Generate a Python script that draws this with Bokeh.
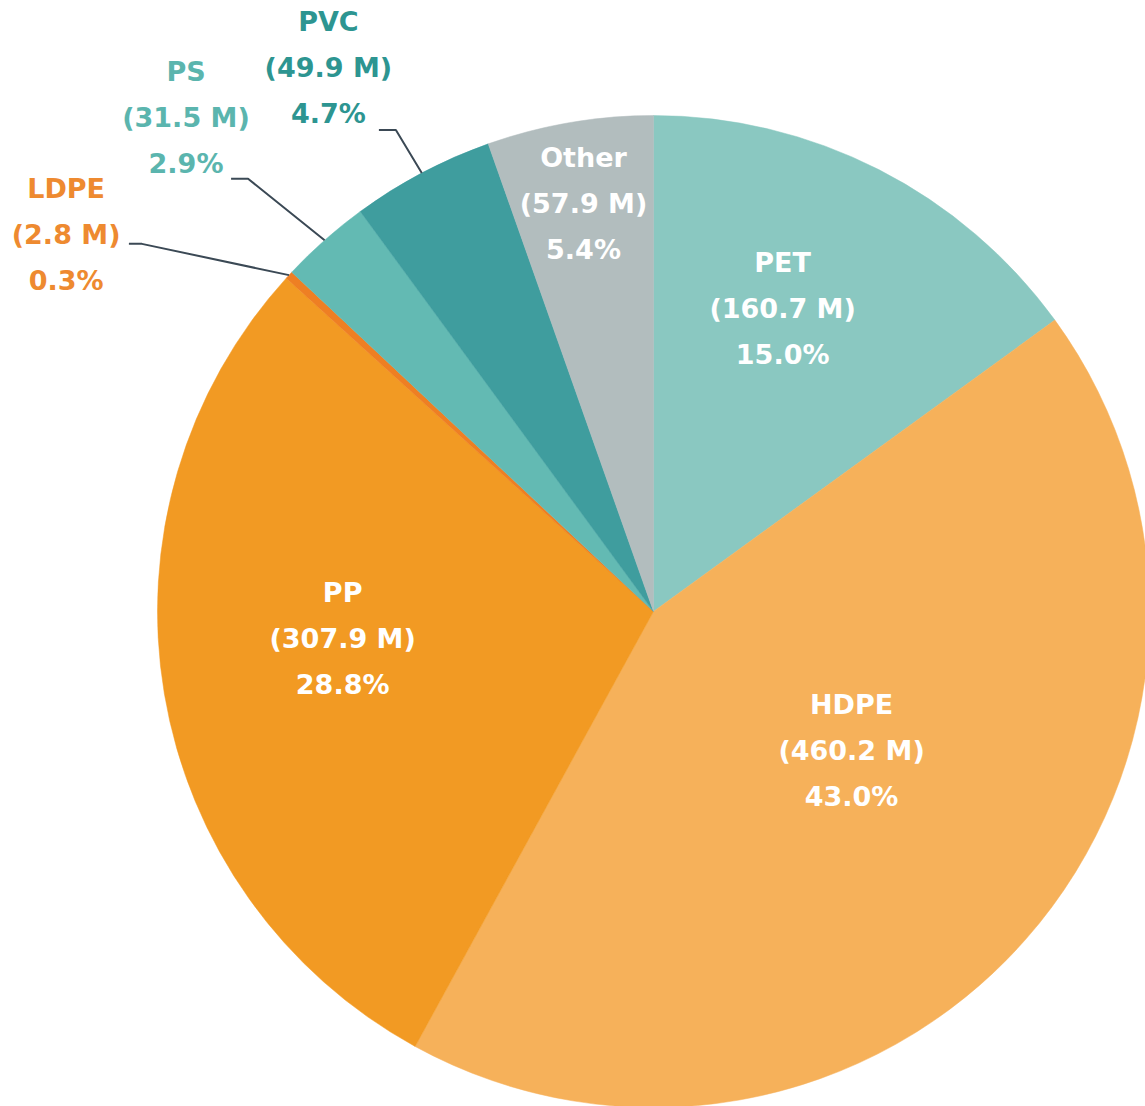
import math
from bokeh.plotting import figure
from bokeh.models import Range1d, ColumnDataSource
from bokeh.embed import file_html
from bokeh.resources import INLINE
from bokeh.core.properties import value

# ---- data ----
categories = ["PET", "HDPE", "PP", "LDPE", "PS", "PVC", "Other"]
tonnes_m = [160.7, 460.2, 307.9, 2.8, 31.5, 49.9, 57.9]
percents = [15.0, 43.0, 28.8, 0.3, 2.9, 4.7, 5.4]

# ---- styles ----
slice_colors = ["#8AC8C1", "#F6B15A", "#F29A23", "#EE7F23", "#63BAB3", "#3F9D9E", "#B2BDBE"]
label_colors = ["white", "white", "white", "#EE8A30", "#5BB5AE", "#2D9591", "white"]
# label placement: (radius px, angle offset deg) relative to slice mid-angle
label_polar = [(329, 3.9), (242, 6.3), (312, -4.6), (698, 10.0), (680, 1.9), (634, 3.0), (414, 0.0)]
# leader: (elbow radius, elbow angle offset, horizontal run px)
leader = {3: (630, 7.0, -13), 4: (593, 1.6, -17), 5: (546, 0.3, -17)}

W, H = 1145, 1106
CX, CY = 653, 611   # pie centre inside plot, in screen px
R = 496

p = figure(width=W, height=H, output_backend="svg", toolbar_location=None,
           x_range=Range1d(-CX, W - CX), y_range=Range1d(CY - H, CY),
           min_border=0, outline_line_color=None, background_fill_color="white")
p.axis.visible = False
p.grid.visible = False

total = sum(tonnes_m)
starts, ends, mids = [], [], []
cum = 0.0
for v in tonnes_m:
    a0 = math.pi / 2 - cum / total * 2 * math.pi
    cum += v
    a1 = math.pi / 2 - cum / total * 2 * math.pi
    starts.append(a0)
    ends.append(a1)
    mids.append((a0 + a1) / 2)

src = ColumnDataSource(dict(start=starts, end=ends, color=slice_colors))
p.wedge(x=0, y=0, radius=R, start_angle="start", end_angle="end", direction="clock",
        fill_color="color", line_color="color", line_width=0.5, source=src)

# leader lines
for i, (er, eoff, run) in leader.items():
    m = mids[i]
    x0, y0 = R * math.cos(m), R * math.sin(m)
    ea = m + math.radians(eoff)
    x1, y1 = er * math.cos(ea), er * math.sin(ea)
    x2, y2 = x1 + run, y1
    p.line([x0, x1, x2], [y0, y1, y2], line_color="#3B4955", line_width=2)

# labels
lx, ly, l1, l2, l3, lc = [], [], [], [], [], []
for i, name in enumerate(categories):
    r, off = label_polar[i]
    a = mids[i] + math.radians(off)
    lx.append(r * math.cos(a))
    ly.append(r * math.sin(a))
    l1.append(name)
    l2.append(f"({tonnes_m[i]:.1f} M)")
    l3.append(f"{percents[i]:.1f}%")
    lc.append(label_colors[i])

lsrc = ColumnDataSource(dict(x=lx, y=ly, l1=l1, l2=l2, l3=l3, c=lc))
for col, yoff in (("l1", -46), ("l2", 0), ("l3", 46)):
    p.text(x="x", y="y", text=col, source=lsrc, text_color="c",
           text_font=value("DejaVu Sans"), text_font_style="bold", text_font_size="27px",
           text_align="center", text_baseline="middle", y_offset=yoff)

open("out.html", "w").write(file_html(p, INLINE))
